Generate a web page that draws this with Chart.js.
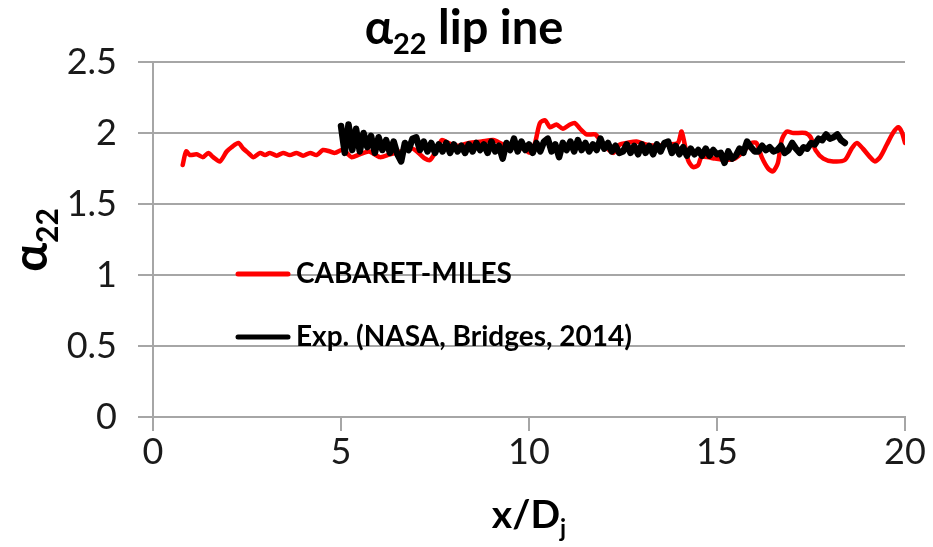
<!DOCTYPE html>
<html>
<head>
<meta charset="utf-8">
<title>alpha22 lip line</title>
<script src="https://cdn.jsdelivr.net/npm/chart.js@4.4.1/dist/chart.umd.min.js"></script>
<style>
  html, body { margin: 0; padding: 0; background: #ffffff; }
  #wrap { width: 933px; height: 547px; }
</style>
</head>
<body>
<div id="wrap"><canvas id="alphaChart" width="933" height="547"></canvas></div>
<script>
// CABARET-MILES run along the lip line
const simX = [0.79, 0.88, 0.98, 1.16, 1.33, 1.47, 1.6, 1.78, 1.96, 2.09, 2.27, 2.4, 2.53, 2.67, 2.85, 2.98,
  3.11, 3.29, 3.46, 3.64, 3.82, 3.99, 4.18, 4.35, 4.52, 4.71, 4.84, 5.02, 5.15, 5.28, 5.5, 5.75, 6.04, 6.3,
  6.6, 6.9, 7.1, 7.23, 7.37, 7.54, 7.68, 7.85, 8.1, 8.4, 8.74, 9.05, 9.3, 9.6, 9.85, 10.03, 10.16, 10.29,
  10.43, 10.56, 10.73, 10.9, 11.09, 11.22, 11.36, 11.53, 11.76, 11.89, 12.05, 12.24, 12.42, 12.6, 12.86,
  13.1, 13.4, 13.7, 13.96, 14.06, 14.23, 14.36, 14.5, 14.59, 14.95, 15.21, 15.48, 15.74, 15.92, 16.05,
  16.19, 16.36, 16.49, 16.62, 16.72, 16.85, 17.03, 17.35, 17.49, 17.62, 17.83, 18.09, 18.4, 18.58, 18.72,
  18.88, 19.07, 19.2, 19.34, 19.51, 19.68, 19.82, 19.91, 20.0];
const simY = [1.775, 1.87, 1.845, 1.85, 1.83, 1.86, 1.83, 1.80, 1.87, 1.90, 1.93, 1.89, 1.86, 1.83, 1.86, 1.845,
  1.86, 1.84, 1.86, 1.845, 1.86, 1.84, 1.86, 1.845, 1.88, 1.87, 1.86, 1.88, 1.86, 1.83, 1.85, 1.87, 1.83, 1.85,
  1.87, 1.89, 1.85, 1.82, 1.81, 1.88, 1.95, 1.93, 1.91, 1.93, 1.94, 1.95, 1.92, 1.90, 1.89, 1.86, 1.93, 2.07,
  2.09, 2.04, 2.06, 2.03, 2.06, 2.07, 2.03, 1.99, 1.99, 1.95, 1.90, 1.86, 1.92, 1.93, 1.94,
  1.92, 1.91, 1.92, 1.93, 2.01, 1.81, 1.76, 1.775, 1.83, 1.82, 1.81, 1.82, 1.88, 1.93, 1.93,
  1.83, 1.75, 1.73, 1.79, 1.95, 2.01, 2.0, 2.0, 1.97, 1.88, 1.82, 1.80, 1.81, 1.89, 1.93,
  1.89, 1.83, 1.80, 1.83, 1.915, 2.0, 2.04, 2.01, 1.93];

// NASA measurements (Bridges, 2014)
const expX = [5.0, 5.1, 5.2, 5.3, 5.4, 5.5, 5.6, 5.7, 5.8, 5.9, 6.0, 6.1, 6.2, 6.3, 6.4, 6.5, 6.6, 6.7, 6.8, 6.9,
  7.0, 7.1, 7.2, 7.3, 7.4, 7.5, 7.6, 7.7, 7.8, 7.9, 8.0, 8.1, 8.2, 8.3, 8.4, 8.5, 8.6, 8.7, 8.8, 8.9,
  9.0, 9.1, 9.2, 9.3, 9.4, 9.5, 9.6, 9.7, 9.8, 9.9, 10.0, 10.1, 10.2, 10.3, 10.4, 10.5, 10.6, 10.7, 10.8, 10.9,
  11.0, 11.1, 11.2, 11.3, 11.4, 11.5, 11.6, 11.7, 11.8, 11.9, 12.0, 12.1, 12.2, 12.3, 12.4, 12.5, 12.6, 12.7, 12.8, 12.9,
  13.0, 13.1, 13.2, 13.3, 13.4, 13.5, 13.6, 13.7, 13.8, 13.9, 14.0, 14.1, 14.2, 14.3, 14.4, 14.5, 14.6, 14.7, 14.8, 14.9,
  15.0, 15.1, 15.2, 15.3, 15.4, 15.5, 15.6, 15.7, 15.8, 15.9, 16.0, 16.1, 16.2, 16.3, 16.4, 16.5, 16.6, 16.7, 16.8, 16.9,
  17.0, 17.1, 17.2, 17.3, 17.4, 17.5, 17.6, 17.7, 17.8, 17.9, 18.0, 18.1, 18.2, 18.3, 18.4];
const expY = [2.05, 1.86, 2.06, 1.88, 2.03, 1.87, 2.0, 1.9, 1.98, 1.86, 1.97, 1.88, 1.95, 1.86, 1.94, 1.85, 1.80, 1.93, 1.88, 1.96,
  1.97, 1.88, 1.94, 1.87, 1.93, 1.86, 1.92, 1.87, 1.93, 1.86, 1.92, 1.87, 1.91, 1.86, 1.92, 1.87, 1.93, 1.88, 1.92, 1.86,
  1.94, 1.87, 1.91, 1.82, 1.93, 1.88, 1.96, 1.87, 1.94, 1.88, 1.92, 1.86, 1.93, 1.87, 1.94, 1.96, 1.87, 1.92, 1.83, 1.93,
  1.88, 1.94, 1.87, 1.95, 1.88, 1.93, 1.87, 1.92, 1.88, 1.96, 1.89, 1.93, 1.87, 1.91, 1.86, 1.87, 1.92, 1.86, 1.91, 1.85,
  1.92, 1.86, 1.91, 1.85, 1.92, 1.87, 1.93, 1.94, 1.86, 1.91, 1.85, 1.90, 1.84, 1.89, 1.85, 1.88, 1.84, 1.89, 1.84, 1.88,
  1.85, 1.86, 1.79, 1.87, 1.82, 1.84, 1.89, 1.86, 1.94, 1.90, 1.87, 1.87, 1.91, 1.88, 1.90, 1.87, 1.88, 1.91, 1.86, 1.88,
  1.93, 1.89, 1.86, 1.90, 1.89, 1.93, 1.92, 1.96, 1.95, 1.99, 1.96, 1.97, 1.99, 1.95, 1.93];

const seriesNames = ['CABARET-MILES', 'Exp. (NASA, Bridges, 2014)'];
const seriesColors = ['#ff0000', '#000000'];

const FONT = 'Lato, "Open Sans", "Liberation Sans", sans-serif';
const TEXT_COLOR = '#1a1a1a';
const GRID_COLOR = '#a6a6a6';

function toPoints(xs, ys) {
    return xs.map((x, i) => ({ x: x, y: ys[i] }));
}

// draws a run of text pieces, some of them as subscripts
function drawRich(ctx, parts, x, y, size, align) {
    const pieces = parts.map(p => {
        const fs = p.sub ? Math.round(size * 0.62) : size;
        ctx.font = 'bold ' + fs + 'px ' + FONT;
        return { t: p.t, fs: fs, sub: p.sub, w: ctx.measureText(p.t).width };
    });
    const total = pieces.reduce((s, p) => s + p.w, 0);
    let cx = align === 'center' ? x - total / 2 : x;
    ctx.textBaseline = 'alphabetic';
    ctx.textAlign = 'left';
    pieces.forEach(p => {
        ctx.font = 'bold ' + p.fs + 'px ' + FONT;
        ctx.fillText(p.t, cx, p.sub ? y + size * 0.22 : y);
        cx += p.w;
    });
}

const textPlugin = {
    id: 'textPlugin',
    afterDraw(chart) {
        const ctx = chart.ctx;
        ctx.save();
        ctx.fillStyle = '#000000';

        // title
        drawRich(ctx, [{ t: 'α' }, { t: '22', sub: true }, { t: ' lip ine' }], 464, 44, 47, 'center');

        // x axis title
        drawRich(ctx, [{ t: 'x/D' }, { t: 'j', sub: true }], 529, 528, 39, 'center');

        // y axis title, rotated
        ctx.save();
        ctx.translate(47, 240);
        ctx.rotate(-Math.PI / 2);
        drawRich(ctx, [{ t: 'α' }, { t: '22', sub: true }], 0, 0, 48, 'center');
        ctx.restore();

        // legend inside the plot area
        const rows = [274, 337];
        rows.forEach((ly, i) => {
            ctx.strokeStyle = seriesColors[i];
            ctx.lineWidth = 5;
            ctx.lineCap = 'round';
            ctx.beginPath();
            ctx.moveTo(238, ly);
            ctx.lineTo(288, ly);
            ctx.stroke();
            ctx.font = 'bold 28px ' + FONT;
            ctx.textAlign = 'left';
            ctx.textBaseline = 'middle';
            ctx.fillStyle = '#000000';
            ctx.fillText(seriesNames[i], 296, ly);
        });
        ctx.restore();
    }
};

const ctx = document.getElementById('alphaChart');
new Chart(ctx, {
    type: 'line',
    data: {
        datasets: [
            {
                label: seriesNames[1],
                data: toPoints(expX, expY),
                borderColor: seriesColors[1],
                borderWidth: 6.5,
                pointRadius: 0,
                tension: 0,
                borderJoinStyle: 'round',
                borderCapStyle: 'round',
                order: 0
            },
            {
                label: seriesNames[0],
                data: toPoints(simX, simY),
                borderColor: seriesColors[0],
                borderWidth: 4.5,
                pointRadius: 0,
                tension: 0.25,
                borderJoinStyle: 'round',
                borderCapStyle: 'round',
                order: 1
            }
        ]
    },
    options: {
        responsive: false,
        animation: false,
        devicePixelRatio: 1,
        layout: { padding: { left: 0, top: 62, right: 28, bottom: 0 } },
        plugins: {
            legend: { display: false },
            title: { display: false },
            tooltip: { enabled: false }
        },
        scales: {
            x: {
                type: 'linear',
                min: 0,
                max: 20,
                ticks: { stepSize: 5, color: TEXT_COLOR, font: { family: FONT, size: 36 }, padding: 0, maxRotation: 0 },
                grid: { drawOnChartArea: false, drawTicks: true, tickLength: 14, color: GRID_COLOR, lineWidth: 2 },
                border: { color: GRID_COLOR, width: 2 },
                afterFit: scale => { scale.height = 130; }
            },
            y: {
                min: 0,
                max: 2.5,
                ticks: {
                    stepSize: 0.5, color: TEXT_COLOR, font: { family: FONT, size: 36 }, padding: 21,
                    callback: value => String(value)
                },
                grid: { drawOnChartArea: true, drawTicks: true, tickLength: 15, color: GRID_COLOR, lineWidth: 2 },
                border: { color: GRID_COLOR, width: 2 },
                afterFit: scale => { scale.width = 153; }
            }
        }
    },
    plugins: [textPlugin]
});
</script>
</body>
</html>
